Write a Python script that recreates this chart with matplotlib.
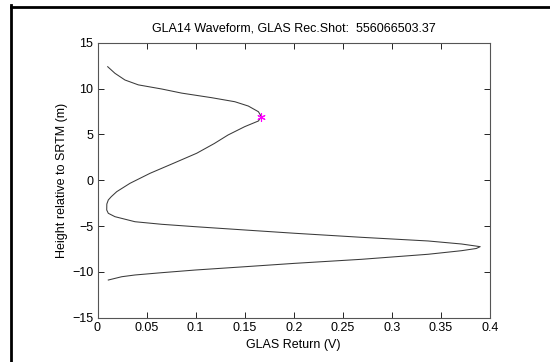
import matplotlib
matplotlib.use("Agg")
import matplotlib.pyplot as plt
from matplotlib.lines import Line2D

plt.rcParams['font.family'] = ['Liberation Sans', 'DejaVu Sans']

height = [12.38, 11.66, 10.93, 10.4, 9.95, 9.5, 9.0, 8.56, 8.09, 7.47, 6.93,
          6.46, 5.84, 4.93, 4.0, 2.94, 1.84, 0.75, -0.34, -1.25, -1.8, -2.16, -2.6,
          -3.25, -3.61, -3.98, -4.53, -4.81, -5.07, -5.43, -5.79, -6.23, -6.63,
          -6.96, -7.25, -7.45, -7.69, -8.08, -8.63, -9.07, -9.44, -9.8, -10.09,
          -10.34, -10.53, -10.89]
ret = [0.0104, 0.0178, 0.028, 0.0416, 0.0654, 0.0858, 0.1164, 0.140, 0.1537, 0.164,
       0.167, 0.164, 0.150, 0.133, 0.119, 0.1011, 0.0773, 0.0535, 0.0331, 0.0196,
       0.014, 0.011, 0.0095, 0.0094, 0.011, 0.0178, 0.0382, 0.0654, 0.0994, 0.150,
       0.201, 0.269, 0.337, 0.371, 0.390, 0.386, 0.371, 0.337, 0.269, 0.201, 0.150,
       0.0994, 0.0654, 0.0382, 0.0247, 0.011]
peak_x = [0.167]
peak_y = [6.93]

xticks = [0, 0.05, 0.1, 0.15, 0.2, 0.25, 0.3, 0.35, 0.4]
xticklabels = ['0', '0.05', '0.1', '0.15', '0.2', '0.25', '0.3', '0.35', '0.4']
yticks = [-15, -10, -5, 0, 5, 10, 15]

fig = plt.figure(figsize=(5.5, 3.62), dpi=100)
ax = fig.add_axes([97.5/550, 1-317.7/362, (490-97.5)/550, (317.7-42.7)/362])

ax.plot(ret, height, color='#3a3a3a', lw=0.75)
ax.plot(peak_x, peak_y, linestyle='none', marker=(6, 2, 0), color='magenta',
        markersize=6, mew=0.8)

ax.set_xlim(0, 0.4)
ax.set_ylim(-15, 15)
ax.set_xticks(xticks)
ax.set_xticklabels(xticklabels)
ax.set_yticks(yticks)
ax.tick_params(direction='in', length=4, width=0.6, top=True, right=True,
               labelsize=9, colors='black', pad=3)
for s in ax.spines.values():
    s.set_color('#555555')
    s.set_linewidth(0.8)

ax.set_title('GLA14 Waveform, GLAS Rec.Shot:  556066503.37', fontsize=9, pad=8)
ax.set_xlabel('GLAS Return (V)', fontsize=9, labelpad=4)
ax.set_ylabel('Height relative to SRTM (m)', fontsize=9, labelpad=3)

fig.add_artist(Line2D([11/550, 1.0], [1-6.5/362, 1-6.5/362], color='black', lw=2,
                      transform=fig.transFigure))
fig.add_artist(Line2D([11/550, 11/550], [0, 1-6.5/362 + 0.003], color='black', lw=2,
                      transform=fig.transFigure))

fig.savefig('out.png', dpi=100, facecolor='white')
